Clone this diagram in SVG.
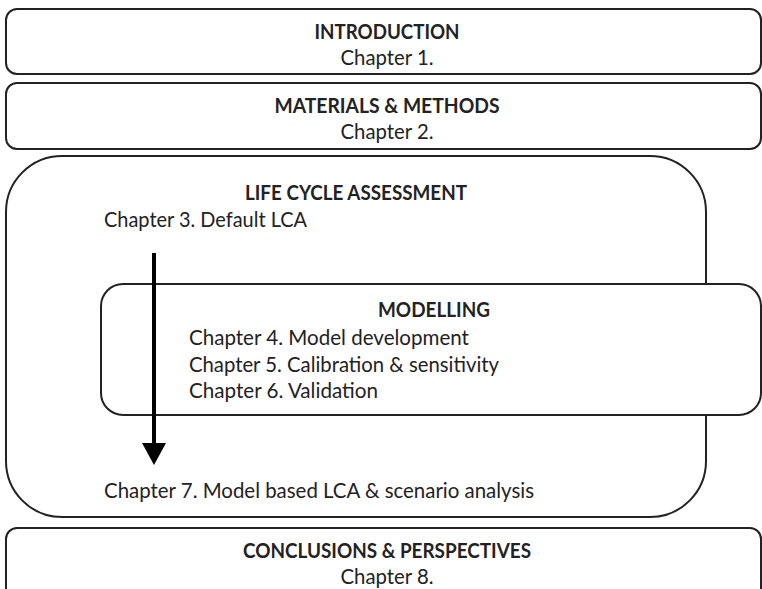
<svg xmlns="http://www.w3.org/2000/svg" width="762" height="589" viewBox="0 0 762 589">
<defs>
<style>
.box{fill:#fff;stroke:#222;stroke-width:2}
.t{font-family:Lato,"Open Sans","Liberation Sans",sans-serif;font-size:21px;fill:#222}
.b{font-weight:bold;text-anchor:middle}
.c{text-anchor:middle}
</style>
<marker id="ah" viewBox="0 0 22 24" refX="1" refY="12" markerWidth="22" markerHeight="24" markerUnits="userSpaceOnUse" orient="auto">
<path d="M0,0 L22,12 L0,24 Z" fill="#000"/>
</marker>
</defs>
<rect width="762" height="589" fill="#fff"/>
<g id="introduction">
<rect class="box" x="6" y="9" width="755" height="65" rx="11"/>
<text class="t b" x="387" y="39" textLength="145" lengthAdjust="spacingAndGlyphs">INTRODUCTION</text>
<text class="t c" x="387" y="65" textLength="93" lengthAdjust="spacingAndGlyphs">Chapter 1.</text>
</g>
<g id="materials">
<rect class="box" x="6" y="83" width="755" height="66" rx="11"/>
<text class="t b" x="387" y="113" textLength="225" lengthAdjust="spacingAndGlyphs">MATERIALS &amp; METHODS</text>
<text class="t c" x="387" y="139" textLength="93" lengthAdjust="spacingAndGlyphs">Chapter 2.</text>
</g>
<g id="lca">
<rect class="box" x="6" y="156" width="700" height="361" rx="56"/>
<text class="t b" x="356" y="200" textLength="222" lengthAdjust="spacingAndGlyphs">LIFE CYCLE ASSESSMENT</text>
<text class="t" x="104" y="227" textLength="203" lengthAdjust="spacingAndGlyphs">Chapter 3. Default LCA</text>
<text class="t" x="104" y="498" textLength="430" lengthAdjust="spacingAndGlyphs">Chapter 7. Model based LCA &amp; scenario analysis</text>
</g>
<g id="modelling">
<rect class="box" x="101" y="284" width="660" height="131" rx="22"/>
<text class="t b" x="434" y="317" textLength="112" lengthAdjust="spacingAndGlyphs">MODELLING</text>
<text class="t" x="189" y="345" textLength="280" lengthAdjust="spacingAndGlyphs">Chapter 4. Model development</text>
<text class="t" x="189" y="372" textLength="310" lengthAdjust="spacingAndGlyphs">Chapter 5. Calibration &amp; sensitivity</text>
<text class="t" x="189" y="398" textLength="189" lengthAdjust="spacingAndGlyphs">Chapter 6. Validation</text>
</g>
<g id="conclusions">
<rect class="box" x="6" y="528" width="755" height="80" rx="11"/>
<text class="t b" x="387" y="558" textLength="288" lengthAdjust="spacingAndGlyphs">CONCLUSIONS &amp; PERSPECTIVES</text>
<text class="t c" x="387" y="584" textLength="93" lengthAdjust="spacingAndGlyphs">Chapter 8.</text>
</g>
<g id="connectors">
<line x1="154" y1="253" x2="154" y2="444" stroke="#000" stroke-width="4" marker-end="url(#ah)"/>
</g>
</svg>
